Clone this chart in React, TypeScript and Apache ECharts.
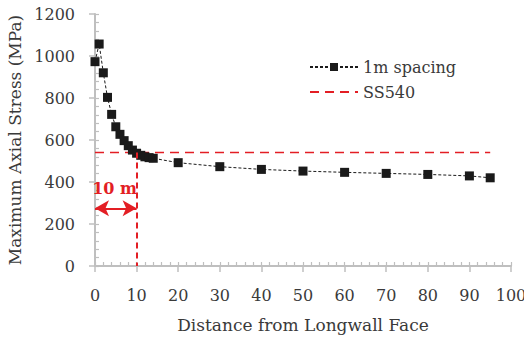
import React, { useEffect, useRef } from "react";
import * as echarts from "echarts";

const distance = [0, 1, 2, 3, 4, 5, 6, 7, 8, 9, 10, 11, 12, 13, 14, 20, 30, 40, 50, 60, 70, 80, 90, 95];
const stress = [973, 1057, 920, 803, 722, 663, 627, 597, 573, 552, 537, 527, 520, 516, 513, 492, 473, 460, 452, 446, 441, 436, 429, 420];
const ss540X = [0, 95];
const ss540Y = [540, 540];
const zoneX = 10;
const arrowY = 275;
const zoneLabel = "10 m";

const FONT = "DejaVu Serif";
const TEXT = "#3a3a3a";
const RED = "#e31e24";
const AXIS = "#bfbfbf";

export default function App() {
  const ref = useRef<HTMLDivElement>(null);
  useEffect(() => {
    if (!ref.current) return;
    const chart = echarts.init(ref.current, null, { renderer: "svg" });
    const commonX = { type: "value", min: 0, max: 100 };
    const commonY = { type: "value", min: 0, max: 1200 };
    chart.setOption({
      animation: false,
      textStyle: { fontFamily: FONT, color: TEXT },
      grid: { left: 95, right: 13, top: 14, bottom: 72, containLabel: false, outerBoundsMode: "none" },
      legend: {
        orient: "vertical",
        left: 304,
        top: 54,
        itemWidth: 48,
        itemHeight: 10,
        itemGap: 9,
        textStyle: { fontFamily: FONT, fontSize: 16, color: TEXT },
        data: [
          { name: "1m spacing" },
          { name: "SS540", itemStyle: { opacity: 0 } },
        ],
      },
      xAxis: [
        {
          ...commonX,
          interval: 10,
          name: "Distance from Longwall Face",
          nameLocation: "middle",
          nameGap: 50,
          nameTextStyle: { fontFamily: FONT, fontSize: 17, color: TEXT },
          axisLine: { lineStyle: { color: AXIS, width: 2 } },
          axisTick: { show: true, inside: false, length: 6, lineStyle: { color: AXIS, width: 1.5 } },
          axisLabel: { fontFamily: FONT, fontSize: 16, color: TEXT, margin: 21 },
          splitLine: { show: false },
        },
        {
          ...commonX,
          interval: 2,
          position: "bottom",
          axisLine: { show: false },
          axisTick: { show: true, inside: true, length: 4, lineStyle: { color: AXIS, width: 1.2 } },
          axisLabel: { show: false },
          splitLine: { show: false },
        },
      ],
      yAxis: [
        {
          ...commonY,
          interval: 200,
          name: "Maximum Axial Stress (MPa)",
          nameLocation: "middle",
          nameGap: 68,
          nameTextStyle: { fontFamily: FONT, fontSize: 17, color: TEXT },
          axisLine: { show: true, lineStyle: { color: AXIS, width: 2 } },
          axisTick: { show: true, inside: false, length: 6, lineStyle: { color: AXIS, width: 1.5 } },
          axisLabel: { fontFamily: FONT, fontSize: 16, color: TEXT, margin: 20, formatter: (v: number) => String(v) },
          splitLine: { show: false },
        },
        {
          ...commonY,
          interval: 40,
          position: "left",
          axisLine: { show: false },
          axisTick: { show: true, inside: true, length: 4, lineStyle: { color: AXIS, width: 1.2 } },
          axisLabel: { show: false },
          splitLine: { show: false },
        },
      ],
      series: [
        {
          name: "SS540",
          type: "line",
          data: ss540X.map((x, i) => [x, ss540Y[i]]),
          symbol: "none",
          lineStyle: { color: RED, width: 1.5, type: [9, 6] },
          itemStyle: { color: RED },
          z: 2,
          markLine: {
            silent: true,
            symbol: ["none", "none"],
            label: { show: false },
            lineStyle: { color: RED, width: 2, type: [6, 4] },
            data: [[{ coord: [zoneX, ss540Y[0]] }, { coord: [zoneX, 0] }]],
          },
        },
        {
          name: "arrow",
          type: "line",
          data: [],
          markLine: {
            silent: true,
            symbol: ["arrow", "arrow"],
            symbolSize: [12, 14],
            label: { show: false },
            lineStyle: { color: RED, width: 2, type: "solid" },
            data: [[{ coord: [0, arrowY] }, { coord: [zoneX, arrowY] }]],
          },
          markPoint: {
            silent: true,
            symbol: "circle",
            symbolSize: 0,
            label: {
              show: true,
              formatter: zoneLabel,
              fontFamily: FONT,
              fontSize: 16,
              fontWeight: "bold",
              color: RED,
              position: "inside",
            },
            data: [{ coord: [4.7, 371] }],
          },
        },
        {
          name: "1m spacing",
          type: "line",
          data: distance.map((x, i) => [x, stress[i]]),
          symbol: "rect",
          symbolSize: 9,
          showAllSymbol: true,
          lineStyle: { color: "#1a1a1a", width: 1, type: [3, 2] },
          itemStyle: { color: "#1a1a1a" },
          z: 3,
        },
      ],
    });
    return () => chart.dispose();
  }, []);
  return <div ref={ref} style={{ position: "absolute", left: 0, top: 0, width: 524, height: 338 }} />;
}
